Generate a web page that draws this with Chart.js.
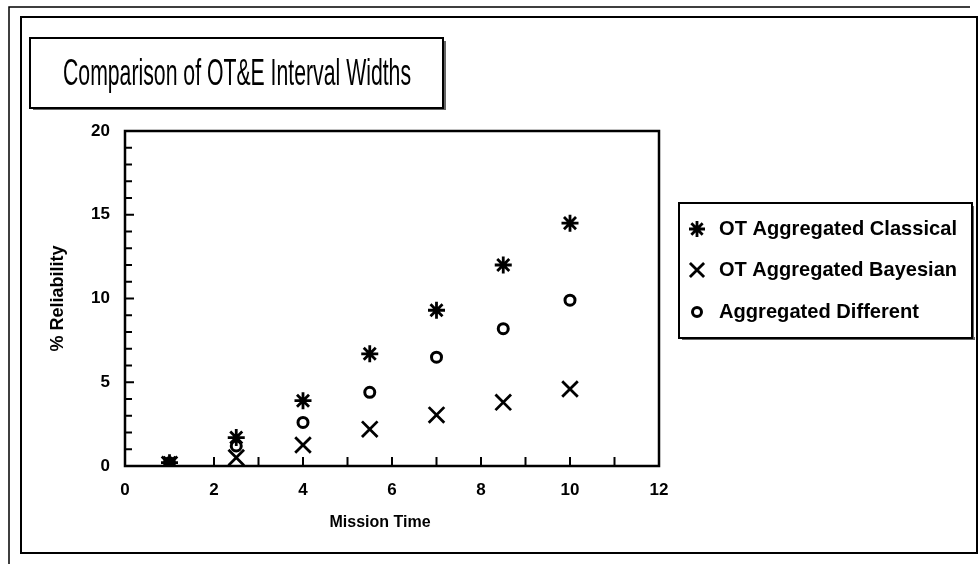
<!DOCTYPE html>
<html>
<head>
<meta charset="utf-8">
<script src="https://cdn.jsdelivr.net/npm/chart.js@4"></script>
<style>
  html, body { margin: 0; padding: 0; background: #fff; }
  #wrap { width: 979px; height: 564px; position: relative; }
</style>
</head>
<body>
<div id="wrap"><canvas id="myChart" width="979" height="564"></canvas></div>
<script>
const missionTime = [1, 2.5, 4, 5.5, 7, 8.5, 10];
const classical = [0.2, 1.7, 3.9, 6.7, 9.3, 12.0, 14.5];
const bayesian = [0.1, 0.5, 1.25, 2.2, 3.05, 3.8, 4.6];
const different = [0.2, 1.2, 2.6, 4.4, 6.5, 8.2, 9.9];
const seriesNames = ['OT Aggregated Classical', 'OT Aggregated Bayesian', 'Aggregated Different'];
const chartTitle = 'Comparison of OT&E Interval Widths';
const xTitle = 'Mission Time';

const FONT = "'Liberation Sans', Arial, sans-serif";

function pts(ys) {
  return missionTime.map((x, i) => ({x: x, y: ys[i]}));
}

// draws text squeezed horizontally to a given width
function fitText(ctx, text, x, y, font, width) {
  ctx.save();
  ctx.font = font;
  const w = ctx.measureText(text).width;
  const sx = Math.min(1, width / w);
  ctx.translate(x, y);
  ctx.scale(sx, 1);
  ctx.fillText(text, 0, 0);
  ctx.restore();
}

const decor = {
  id: 'decor',
  afterDraw(chart) {
    const ctx = chart.ctx;
    const a = chart.chartArea;
    const xs = chart.scales.x, ys = chart.scales.y;
    ctx.save();
    ctx.strokeStyle = '#000';
    ctx.fillStyle = '#000';

    // outer frames
    ctx.lineWidth = 1.5;
    ctx.beginPath();
    ctx.moveTo(9, 564); ctx.lineTo(9, 7); ctx.lineTo(970, 7);
    ctx.stroke();
    ctx.lineWidth = 2;
    ctx.strokeRect(21, 17, 956, 536);

    // title box
    ctx.fillStyle = '#666';
    ctx.fillRect(33, 107, 411, 3);
    ctx.fillRect(443, 41, 3, 69);
    ctx.strokeStyle = '#000';
    ctx.strokeRect(30, 38, 413, 70);
    ctx.fillStyle = '#000';
    ctx.textBaseline = 'alphabetic';
    ctx.textAlign = 'left';
    fitText(ctx, chartTitle, 63, 85, '36px ' + FONT, 348);

    // x axis title (sits a bit left of centre in the original)
    ctx.textAlign = 'center';
    ctx.textBaseline = 'middle';
    ctx.font = 'bold 16px ' + FONT;
    ctx.fillText(xTitle, 380, 523);
    ctx.textAlign = 'left';

    // plot box
    ctx.lineWidth = 2.5;
    ctx.strokeRect(a.left, a.top, a.right - a.left, a.bottom - a.top);
    ctx.lineWidth = 2;
    ctx.beginPath();
    for (let v = 1; v < 20; v++) {
      const py = ys.getPixelForValue(v);
      ctx.moveTo(a.left, py);
      ctx.lineTo(a.left + (v % 5 === 0 ? 9 : 7), py);
    }
    for (let v = 1; v < 12; v++) {
      const px = xs.getPixelForValue(v);
      ctx.moveTo(px, a.bottom);
      ctx.lineTo(px, a.bottom - 9);
    }
    ctx.stroke();

    // legend
    ctx.fillStyle = '#666';
    ctx.fillRect(682, 337, 293, 3);
    ctx.fillRect(971, 206, 3, 134);
    ctx.lineWidth = 2;
    ctx.strokeRect(679, 203, 293, 135);
    const rows = [228, 269, 311];
    const widths = [238, 238, 200];
    chart.data.datasets.forEach((ds, i) => {
      ctx.strokeStyle = '#000';
      ctx.fillStyle = ds.backgroundColor;
      ctx.lineWidth = ds.borderWidth;
      Chart.helpers.drawPoint(ctx, {
        pointStyle: ds.pointStyle,
        radius: ds.pointStyle === 'circle' ? 4.5 : (ds.pointStyle === 'crossRot' ? 10 : 8),
        rotation: 0,
        borderWidth: ds.borderWidth
      }, 697, rows[i] + 1);
      ctx.fillStyle = '#000';
      ctx.textBaseline = 'middle';
      fitText(ctx, ds.label, 719, rows[i] + 1, 'bold 21px ' + FONT, widths[i]);
    });
    ctx.restore();
  }
};

new Chart(document.getElementById('myChart'), {
  type: 'scatter',
  data: {
    datasets: [{
      label: seriesNames[0],
      data: pts(classical),
      pointStyle: 'star',
      pointRadius: 8.5,
      borderWidth: 2.8,
      borderColor: '#000',
      backgroundColor: '#000'
    }, {
      label: seriesNames[1],
      data: pts(bayesian),
      pointStyle: 'crossRot',
      pointRadius: 11,
      borderWidth: 2.8,
      borderColor: '#000',
      backgroundColor: '#000'
    }, {
      label: seriesNames[2],
      data: pts(different),
      pointStyle: 'circle',
      pointRadius: 5,
      borderWidth: 3,
      borderColor: '#000',
      backgroundColor: '#fff'
    }]
  },
  options: {
    responsive: false,
    animation: false,
    layout: { padding: { left: 40, top: 131, right: 320, bottom: 30 } },
    plugins: {
      legend: { display: false },
      title: { display: false },
      tooltip: { enabled: false }
    },
    scales: {
      x: {
        type: 'linear',
        min: 0, max: 12,
        grid: { display: false, drawTicks: false },
        border: { display: false },
        ticks: { stepSize: 2, color: '#000', padding: 14, font: { family: FONT, size: 17, weight: 'bold' } },
        title: { display: false },
        afterFit(s) { s.height = 68; }
      },
      y: {
        min: 0, max: 20,
        grid: { display: false, drawTicks: false },
        border: { display: false },
        ticks: { stepSize: 5, color: '#000', padding: 15, font: { family: FONT, size: 17, weight: 'bold' } },
        title: { display: true, text: '% Reliability', color: '#000', padding: { top: 7, bottom: 0 }, font: { family: FONT, size: 18, weight: 'bold' } },
        afterFit(s) { s.width = 85; }
      }
    }
  },
  plugins: [decor]
});
</script>
</body>
</html>
